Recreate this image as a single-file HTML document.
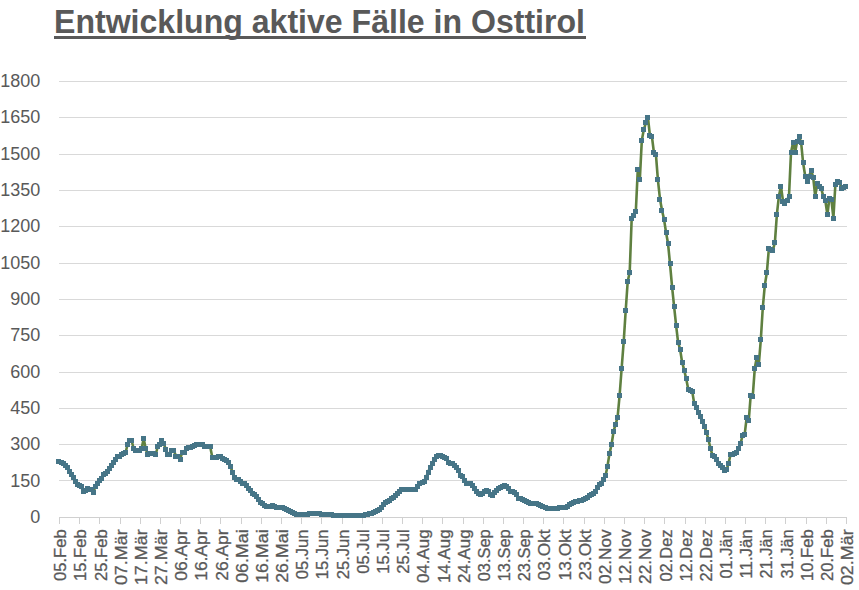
<!DOCTYPE html>
<html><head><meta charset="utf-8"><title>Entwicklung aktive Fälle in Osttirol</title>
<style>
html,body{margin:0;padding:0;background:#fff;}
body{width:859px;height:590px;position:relative;overflow:hidden;}
h1{position:absolute;left:54px;top:5px;margin:0;transform:scale(1.002,1.045);transform-origin:0 0;font:bold 32px/1 "Liberation Sans",Arial,sans-serif;color:#595959;white-space:nowrap;}
svg{position:absolute;left:0;top:0;}
#u{position:absolute;left:54px;top:36px;width:532px;height:3px;background:#595959;}
.yl{font:18px "Liberation Sans",Arial,sans-serif;fill:#595959;}
.xl{font:16.7px "Liberation Sans",Arial,sans-serif;fill:#595959;stroke:#595959;stroke-width:0.3px;}
</style></head><body>
<h1 id="t">Entwicklung aktive Fälle in Osttirol</h1>
<div id="u"></div>
<svg width="859" height="590" viewBox="0 0 859 590">
<line x1="59.0" y1="480.5" x2="847.0" y2="480.5" stroke="#D9D9D9" stroke-width="1"/>
<line x1="59.0" y1="444.5" x2="847.0" y2="444.5" stroke="#D9D9D9" stroke-width="1"/>
<line x1="59.0" y1="408.5" x2="847.0" y2="408.5" stroke="#D9D9D9" stroke-width="1"/>
<line x1="59.0" y1="372.5" x2="847.0" y2="372.5" stroke="#D9D9D9" stroke-width="1"/>
<line x1="59.0" y1="335.5" x2="847.0" y2="335.5" stroke="#D9D9D9" stroke-width="1"/>
<line x1="59.0" y1="299.5" x2="847.0" y2="299.5" stroke="#D9D9D9" stroke-width="1"/>
<line x1="59.0" y1="263.5" x2="847.0" y2="263.5" stroke="#D9D9D9" stroke-width="1"/>
<line x1="59.0" y1="226.5" x2="847.0" y2="226.5" stroke="#D9D9D9" stroke-width="1"/>
<line x1="59.0" y1="190.5" x2="847.0" y2="190.5" stroke="#D9D9D9" stroke-width="1"/>
<line x1="59.0" y1="154.5" x2="847.0" y2="154.5" stroke="#D9D9D9" stroke-width="1"/>
<line x1="59.0" y1="117.5" x2="847.0" y2="117.5" stroke="#D9D9D9" stroke-width="1"/>
<line x1="59.0" y1="81.5" x2="847.0" y2="81.5" stroke="#D9D9D9" stroke-width="1"/>
<line x1="59.0" y1="517.5" x2="847.0" y2="517.5" stroke="#D0D0D0" stroke-width="1"/>
<line x1="59.5" y1="517.5" x2="59.5" y2="524.0" stroke="#D0D0D0" stroke-width="1"/>
<line x1="79.5" y1="517.5" x2="79.5" y2="524.0" stroke="#D0D0D0" stroke-width="1"/>
<line x1="99.5" y1="517.5" x2="99.5" y2="524.0" stroke="#D0D0D0" stroke-width="1"/>
<line x1="120.5" y1="517.5" x2="120.5" y2="524.0" stroke="#D0D0D0" stroke-width="1"/>
<line x1="140.5" y1="517.5" x2="140.5" y2="524.0" stroke="#D0D0D0" stroke-width="1"/>
<line x1="160.5" y1="517.5" x2="160.5" y2="524.0" stroke="#D0D0D0" stroke-width="1"/>
<line x1="180.5" y1="517.5" x2="180.5" y2="524.0" stroke="#D0D0D0" stroke-width="1"/>
<line x1="200.5" y1="517.5" x2="200.5" y2="524.0" stroke="#D0D0D0" stroke-width="1"/>
<line x1="220.5" y1="517.5" x2="220.5" y2="524.0" stroke="#D0D0D0" stroke-width="1"/>
<line x1="241.5" y1="517.5" x2="241.5" y2="524.0" stroke="#D0D0D0" stroke-width="1"/>
<line x1="261.5" y1="517.5" x2="261.5" y2="524.0" stroke="#D0D0D0" stroke-width="1"/>
<line x1="281.5" y1="517.5" x2="281.5" y2="524.0" stroke="#D0D0D0" stroke-width="1"/>
<line x1="301.5" y1="517.5" x2="301.5" y2="524.0" stroke="#D0D0D0" stroke-width="1"/>
<line x1="321.5" y1="517.5" x2="321.5" y2="524.0" stroke="#D0D0D0" stroke-width="1"/>
<line x1="342.5" y1="517.5" x2="342.5" y2="524.0" stroke="#D0D0D0" stroke-width="1"/>
<line x1="362.5" y1="517.5" x2="362.5" y2="524.0" stroke="#D0D0D0" stroke-width="1"/>
<line x1="382.5" y1="517.5" x2="382.5" y2="524.0" stroke="#D0D0D0" stroke-width="1"/>
<line x1="402.5" y1="517.5" x2="402.5" y2="524.0" stroke="#D0D0D0" stroke-width="1"/>
<line x1="422.5" y1="517.5" x2="422.5" y2="524.0" stroke="#D0D0D0" stroke-width="1"/>
<line x1="442.5" y1="517.5" x2="442.5" y2="524.0" stroke="#D0D0D0" stroke-width="1"/>
<line x1="463.5" y1="517.5" x2="463.5" y2="524.0" stroke="#D0D0D0" stroke-width="1"/>
<line x1="483.5" y1="517.5" x2="483.5" y2="524.0" stroke="#D0D0D0" stroke-width="1"/>
<line x1="503.5" y1="517.5" x2="503.5" y2="524.0" stroke="#D0D0D0" stroke-width="1"/>
<line x1="523.5" y1="517.5" x2="523.5" y2="524.0" stroke="#D0D0D0" stroke-width="1"/>
<line x1="543.5" y1="517.5" x2="543.5" y2="524.0" stroke="#D0D0D0" stroke-width="1"/>
<line x1="563.5" y1="517.5" x2="563.5" y2="524.0" stroke="#D0D0D0" stroke-width="1"/>
<line x1="584.5" y1="517.5" x2="584.5" y2="524.0" stroke="#D0D0D0" stroke-width="1"/>
<line x1="604.5" y1="517.5" x2="604.5" y2="524.0" stroke="#D0D0D0" stroke-width="1"/>
<line x1="624.5" y1="517.5" x2="624.5" y2="524.0" stroke="#D0D0D0" stroke-width="1"/>
<line x1="644.5" y1="517.5" x2="644.5" y2="524.0" stroke="#D0D0D0" stroke-width="1"/>
<line x1="664.5" y1="517.5" x2="664.5" y2="524.0" stroke="#D0D0D0" stroke-width="1"/>
<line x1="685.5" y1="517.5" x2="685.5" y2="524.0" stroke="#D0D0D0" stroke-width="1"/>
<line x1="705.5" y1="517.5" x2="705.5" y2="524.0" stroke="#D0D0D0" stroke-width="1"/>
<line x1="725.5" y1="517.5" x2="725.5" y2="524.0" stroke="#D0D0D0" stroke-width="1"/>
<line x1="745.5" y1="517.5" x2="745.5" y2="524.0" stroke="#D0D0D0" stroke-width="1"/>
<line x1="765.5" y1="517.5" x2="765.5" y2="524.0" stroke="#D0D0D0" stroke-width="1"/>
<line x1="785.5" y1="517.5" x2="785.5" y2="524.0" stroke="#D0D0D0" stroke-width="1"/>
<line x1="806.5" y1="517.5" x2="806.5" y2="524.0" stroke="#D0D0D0" stroke-width="1"/>
<line x1="826.5" y1="517.5" x2="826.5" y2="524.0" stroke="#D0D0D0" stroke-width="1"/>
<line x1="846.5" y1="517.5" x2="846.5" y2="524.0" stroke="#D0D0D0" stroke-width="1"/>
<text x="40.2" y="523.00" text-anchor="end" class="yl">0</text>
<text x="40.2" y="486.65" text-anchor="end" class="yl">150</text>
<text x="40.2" y="450.30" text-anchor="end" class="yl">300</text>
<text x="40.2" y="413.95" text-anchor="end" class="yl">450</text>
<text x="40.2" y="377.60" text-anchor="end" class="yl">600</text>
<text x="40.2" y="341.25" text-anchor="end" class="yl">750</text>
<text x="40.2" y="304.90" text-anchor="end" class="yl">900</text>
<text x="40.2" y="268.55" text-anchor="end" class="yl">1050</text>
<text x="40.2" y="232.20" text-anchor="end" class="yl">1200</text>
<text x="40.2" y="195.85" text-anchor="end" class="yl">1350</text>
<text x="40.2" y="159.50" text-anchor="end" class="yl">1500</text>
<text x="40.2" y="123.15" text-anchor="end" class="yl">1650</text>
<text x="40.2" y="86.80" text-anchor="end" class="yl">1800</text>
<text transform="translate(66.1,529.4) rotate(-90)" text-anchor="end" textLength="51.6" lengthAdjust="spacingAndGlyphs" class="xl">05.Feb</text>
<text transform="translate(86.3,529.4) rotate(-90)" text-anchor="end" textLength="51.6" lengthAdjust="spacingAndGlyphs" class="xl">15.Feb</text>
<text transform="translate(106.5,529.4) rotate(-90)" text-anchor="end" textLength="51.6" lengthAdjust="spacingAndGlyphs" class="xl">25.Feb</text>
<text transform="translate(126.6,529.4) rotate(-90)" text-anchor="end" textLength="55.7" lengthAdjust="spacingAndGlyphs" class="xl">07.Mär</text>
<text transform="translate(146.8,529.4) rotate(-90)" text-anchor="end" textLength="55.7" lengthAdjust="spacingAndGlyphs" class="xl">17.Mär</text>
<text transform="translate(167.0,529.4) rotate(-90)" text-anchor="end" textLength="55.7" lengthAdjust="spacingAndGlyphs" class="xl">27.Mär</text>
<text transform="translate(187.2,529.4) rotate(-90)" text-anchor="end" textLength="51.4" lengthAdjust="spacingAndGlyphs" class="xl">06.Apr</text>
<text transform="translate(207.4,529.4) rotate(-90)" text-anchor="end" textLength="51.4" lengthAdjust="spacingAndGlyphs" class="xl">16.Apr</text>
<text transform="translate(227.5,529.4) rotate(-90)" text-anchor="end" textLength="51.4" lengthAdjust="spacingAndGlyphs" class="xl">26.Apr</text>
<text transform="translate(247.7,529.4) rotate(-90)" text-anchor="end" textLength="53.4" lengthAdjust="spacingAndGlyphs" class="xl">06.Mai</text>
<text transform="translate(267.9,529.4) rotate(-90)" text-anchor="end" textLength="53.4" lengthAdjust="spacingAndGlyphs" class="xl">16.Mai</text>
<text transform="translate(288.1,529.4) rotate(-90)" text-anchor="end" textLength="53.4" lengthAdjust="spacingAndGlyphs" class="xl">26.Mai</text>
<text transform="translate(308.3,529.4) rotate(-90)" text-anchor="end" textLength="49.9" lengthAdjust="spacingAndGlyphs" class="xl">05.Jun</text>
<text transform="translate(328.4,529.4) rotate(-90)" text-anchor="end" textLength="49.9" lengthAdjust="spacingAndGlyphs" class="xl">15.Jun</text>
<text transform="translate(348.6,529.4) rotate(-90)" text-anchor="end" textLength="49.9" lengthAdjust="spacingAndGlyphs" class="xl">25.Jun</text>
<text transform="translate(368.8,529.4) rotate(-90)" text-anchor="end" textLength="44.4" lengthAdjust="spacingAndGlyphs" class="xl">05.Jul</text>
<text transform="translate(389.0,529.4) rotate(-90)" text-anchor="end" textLength="44.4" lengthAdjust="spacingAndGlyphs" class="xl">15.Jul</text>
<text transform="translate(409.2,529.4) rotate(-90)" text-anchor="end" textLength="44.4" lengthAdjust="spacingAndGlyphs" class="xl">25.Jul</text>
<text transform="translate(429.3,529.4) rotate(-90)" text-anchor="end" textLength="53.7" lengthAdjust="spacingAndGlyphs" class="xl">04.Aug</text>
<text transform="translate(449.5,529.4) rotate(-90)" text-anchor="end" textLength="53.7" lengthAdjust="spacingAndGlyphs" class="xl">14.Aug</text>
<text transform="translate(469.7,529.4) rotate(-90)" text-anchor="end" textLength="53.7" lengthAdjust="spacingAndGlyphs" class="xl">24.Aug</text>
<text transform="translate(489.9,529.4) rotate(-90)" text-anchor="end" textLength="51.9" lengthAdjust="spacingAndGlyphs" class="xl">03.Sep</text>
<text transform="translate(510.0,529.4) rotate(-90)" text-anchor="end" textLength="51.9" lengthAdjust="spacingAndGlyphs" class="xl">13.Sep</text>
<text transform="translate(530.2,529.4) rotate(-90)" text-anchor="end" textLength="51.9" lengthAdjust="spacingAndGlyphs" class="xl">23.Sep</text>
<text transform="translate(550.4,529.4) rotate(-90)" text-anchor="end" textLength="51.0" lengthAdjust="spacingAndGlyphs" class="xl">03.Okt</text>
<text transform="translate(570.6,529.4) rotate(-90)" text-anchor="end" textLength="51.0" lengthAdjust="spacingAndGlyphs" class="xl">13.Okt</text>
<text transform="translate(590.8,529.4) rotate(-90)" text-anchor="end" textLength="51.0" lengthAdjust="spacingAndGlyphs" class="xl">23.Okt</text>
<text transform="translate(610.9,529.4) rotate(-90)" text-anchor="end" textLength="54.5" lengthAdjust="spacingAndGlyphs" class="xl">02.Nov</text>
<text transform="translate(631.1,529.4) rotate(-90)" text-anchor="end" textLength="54.5" lengthAdjust="spacingAndGlyphs" class="xl">12.Nov</text>
<text transform="translate(651.3,529.4) rotate(-90)" text-anchor="end" textLength="54.5" lengthAdjust="spacingAndGlyphs" class="xl">22.Nov</text>
<text transform="translate(671.5,529.4) rotate(-90)" text-anchor="end" textLength="52.2" lengthAdjust="spacingAndGlyphs" class="xl">02.Dez</text>
<text transform="translate(691.7,529.4) rotate(-90)" text-anchor="end" textLength="52.2" lengthAdjust="spacingAndGlyphs" class="xl">12.Dez</text>
<text transform="translate(711.8,529.4) rotate(-90)" text-anchor="end" textLength="52.2" lengthAdjust="spacingAndGlyphs" class="xl">22.Dez</text>
<text transform="translate(732.0,529.4) rotate(-90)" text-anchor="end" textLength="49.1" lengthAdjust="spacingAndGlyphs" class="xl">01.Jän</text>
<text transform="translate(752.2,529.4) rotate(-90)" text-anchor="end" textLength="49.1" lengthAdjust="spacingAndGlyphs" class="xl">11.Jän</text>
<text transform="translate(772.4,529.4) rotate(-90)" text-anchor="end" textLength="49.1" lengthAdjust="spacingAndGlyphs" class="xl">21.Jän</text>
<text transform="translate(792.6,529.4) rotate(-90)" text-anchor="end" textLength="49.1" lengthAdjust="spacingAndGlyphs" class="xl">31.Jän</text>
<text transform="translate(812.7,529.4) rotate(-90)" text-anchor="end" textLength="51.6" lengthAdjust="spacingAndGlyphs" class="xl">10.Feb</text>
<text transform="translate(832.9,529.4) rotate(-90)" text-anchor="end" textLength="51.6" lengthAdjust="spacingAndGlyphs" class="xl">20.Feb</text>
<text transform="translate(853.1,529.4) rotate(-90)" text-anchor="end" textLength="55.7" lengthAdjust="spacingAndGlyphs" class="xl">02.Mär</text>
<polyline points="59.0,462.0 61.0,462.7 63.0,463.5 65.0,465.1 67.1,467.7 69.1,471.0 71.1,474.7 73.1,477.5 75.1,481.5 77.2,484.0 79.2,485.2 81.2,486.5 83.2,491.9 85.2,490.5 87.2,488.8 89.2,489.5 91.3,489.8 93.3,492.1 95.3,487.0 97.3,483.5 99.3,480.5 101.3,478.0 103.4,474.6 105.4,473.8 107.4,471.5 109.4,468.5 111.4,465.5 113.4,462.5 115.5,459.5 117.5,457.0 119.5,456.0 121.5,455.0 123.5,453.9 125.5,453.0 127.6,444.3 129.6,440.5 131.6,440.5 133.6,448.5 135.6,450.4 137.6,450.4 139.7,450.4 141.7,448.0 143.7,438.4 145.7,449.0 147.7,454.0 149.8,453.5 151.8,453.6 153.8,453.6 155.8,454.0 157.8,446.5 159.8,445.0 161.8,440.5 163.9,443.8 165.9,449.6 167.9,454.5 169.9,454.5 171.9,450.7 173.9,450.7 176.0,456.0 178.0,456.5 180.0,459.1 182.0,453.0 184.0,452.5 186.1,448.1 188.1,447.8 190.1,447.6 192.1,447.0 194.1,445.5 196.1,445.0 198.2,444.5 200.2,444.1 202.2,444.7 204.2,446.5 206.2,446.7 208.2,446.7 210.2,446.7 212.3,457.3 214.3,457.3 216.3,457.3 218.3,457.0 220.3,456.4 222.3,458.0 224.4,459.6 226.4,461.0 228.4,462.2 230.4,466.0 232.4,472.0 234.4,477.5 236.5,479.9 238.5,479.9 240.5,481.5 242.5,483.9 244.5,483.9 246.5,485.9 248.6,488.5 250.6,490.5 252.6,493.1 254.6,494.7 256.6,496.4 258.6,499.2 260.7,502.4 262.7,503.9 264.7,505.3 266.7,506.1 268.7,506.9 270.8,506.5 272.8,505.9 274.8,506.2 276.8,507.2 278.8,507.9 280.8,507.9 282.9,507.9 284.9,508.4 286.9,509.4 288.9,510.6 290.9,511.8 292.9,512.9 294.9,513.7 297.0,514.5 299.0,514.5 301.0,514.5 303.0,514.5 305.0,514.5 307.0,514.3 309.1,513.9 311.1,513.5 313.1,513.3 315.1,513.1 317.1,513.4 319.1,513.8 321.2,514.1 323.2,514.3 325.2,514.4 327.2,514.6 329.2,514.7 331.2,514.9 333.3,515.1 335.3,515.4 337.3,515.4 339.3,515.4 341.3,515.4 343.3,515.4 345.4,515.4 347.4,515.4 349.4,515.4 351.4,515.4 353.4,515.4 355.4,515.4 357.5,515.4 359.5,515.4 361.5,515.4 363.5,515.2 365.5,514.8 367.6,514.4 369.6,513.8 371.6,513.2 373.6,512.2 375.6,511.2 377.6,510.2 379.6,509.2 381.7,507.2 383.7,504.6 385.7,502.9 387.7,501.4 389.7,500.2 391.8,498.9 393.8,497.1 395.8,495.2 397.8,493.2 399.8,491.2 401.8,489.3 403.8,489.6 405.9,489.8 407.9,489.8 409.9,489.8 411.9,489.7 413.9,489.5 415.9,489.3 418.0,486.0 420.0,483.4 422.0,482.7 424.0,481.1 426.0,477.7 428.1,472.2 430.1,467.2 432.1,463.9 434.1,459.6 436.1,456.4 438.1,455.3 440.1,455.3 442.2,456.1 444.2,457.2 446.2,458.9 448.2,462.0 450.2,463.1 452.2,463.7 454.3,465.0 456.3,467.4 458.3,470.5 460.3,475.0 462.3,477.0 464.3,480.3 466.4,483.7 468.4,483.7 470.4,483.2 472.4,485.0 474.4,488.1 476.4,491.5 478.5,493.7 480.5,494.8 482.5,493.0 484.5,491.4 486.5,490.5 488.6,491.4 490.6,494.7 492.6,495.0 494.6,492.7 496.6,490.3 498.6,488.4 500.6,487.6 502.7,486.7 504.7,485.6 506.7,486.8 508.7,488.7 510.7,491.0 512.8,491.3 514.8,492.6 516.8,494.6 518.8,498.1 520.8,498.9 522.8,499.7 524.8,500.7 526.9,501.6 528.9,502.6 530.9,503.6 532.9,503.7 534.9,503.7 537.0,504.0 539.0,504.5 541.0,505.4 543.0,506.9 545.0,507.9 547.0,508.2 549.0,508.3 551.1,508.3 553.1,508.3 555.1,508.3 557.1,508.2 559.1,508.0 561.1,507.8 563.2,507.8 565.2,507.8 567.2,506.2 569.2,504.5 571.2,503.4 573.2,502.5 575.3,501.9 577.3,501.3 579.3,500.7 581.3,500.1 583.3,499.4 585.4,498.4 587.4,497.3 589.4,495.8 591.4,494.4 593.4,493.4 595.4,491.5 597.4,487.1 599.5,484.4 601.5,483.4 603.5,479.6 605.5,475.9 607.5,466.0 609.5,453.6 611.6,444.2 613.6,431.2 615.6,424.3 617.6,417.2 619.6,395.5 621.6,369.0 623.7,341.7 625.7,310.5 627.7,281.5 629.7,272.2 631.7,218.0 633.8,215.4 635.8,211.7 637.8,169.4 639.8,179.9 641.8,140.6 643.8,129.6 645.9,122.8 647.9,117.2 649.9,135.5 651.9,136.4 653.9,152.5 655.9,154.2 657.9,179.9 660.0,199.2 662.0,210.3 664.0,219.1 666.0,232.2 668.0,243.2 670.0,263.6 672.1,287.2 674.1,306.3 676.1,325.4 678.1,342.4 680.1,349.2 682.1,362.2 684.2,370.2 686.2,378.7 688.2,389.1 690.2,390.2 692.2,391.2 694.2,403.4 696.3,407.4 698.3,412.2 700.3,416.9 702.3,421.6 704.3,426.2 706.4,432.0 708.4,439.5 710.4,448.0 712.4,455.1 714.4,456.5 716.4,459.2 718.4,463.2 720.5,465.3 722.5,467.3 724.5,470.4 726.5,469.8 728.5,463.7 730.5,454.6 732.6,454.1 734.6,453.6 736.6,452.0 738.6,448.5 740.6,443.4 742.6,435.3 744.7,434.2 746.7,417.3 748.7,421.0 750.7,395.3 752.7,397.0 754.8,368.1 756.8,357.3 758.8,364.6 760.8,339.8 762.8,307.5 764.8,285.4 766.9,272.2 768.9,248.2 770.9,249.5 772.9,250.1 774.9,242.4 776.9,214.1 778.9,196.1 781.0,186.4 783.0,201.2 785.0,203.8 787.0,200.0 789.0,196.1 791.0,152.5 793.1,142.3 795.1,152.5 797.1,141.6 799.1,136.9 801.1,142.3 803.1,162.8 805.2,176.0 807.2,181.8 809.2,176.0 811.2,170.3 813.2,177.3 815.2,196.4 817.3,183.7 819.3,186.5 821.3,188.8 823.3,196.4 825.3,200.2 827.4,214.8 829.4,198.0 831.4,199.5 833.4,218.0 835.4,184.0 837.4,181.6 839.4,182.0 841.5,188.0 843.5,187.5 845.5,186.4" fill="none" stroke="#5F8040" stroke-width="2.6" stroke-linejoin="round"/>
<g fill="#467587"><rect x="56" y="459" width="5" height="5"/><rect x="59" y="460" width="5" height="5"/><rect x="61" y="461" width="5" height="5"/><rect x="63" y="463" width="5" height="5"/><rect x="65" y="465" width="5" height="5"/><rect x="67" y="469" width="5" height="5"/><rect x="69" y="472" width="5" height="5"/><rect x="71" y="475" width="5" height="5"/><rect x="73" y="479" width="5" height="5"/><rect x="75" y="482" width="5" height="5"/><rect x="77" y="483" width="5" height="5"/><rect x="79" y="484" width="5" height="5"/><rect x="81" y="489" width="5" height="5"/><rect x="83" y="488" width="5" height="5"/><rect x="85" y="486" width="5" height="5"/><rect x="87" y="487" width="5" height="5"/><rect x="89" y="487" width="5" height="5"/><rect x="91" y="490" width="5" height="5"/><rect x="93" y="484" width="5" height="5"/><rect x="95" y="481" width="5" height="5"/><rect x="97" y="478" width="5" height="5"/><rect x="99" y="476" width="5" height="5"/><rect x="101" y="472" width="5" height="5"/><rect x="103" y="471" width="5" height="5"/><rect x="105" y="469" width="5" height="5"/><rect x="107" y="466" width="5" height="5"/><rect x="109" y="463" width="5" height="5"/><rect x="111" y="460" width="5" height="5"/><rect x="113" y="457" width="5" height="5"/><rect x="115" y="454" width="5" height="5"/><rect x="117" y="454" width="5" height="5"/><rect x="119" y="452" width="5" height="5"/><rect x="121" y="451" width="5" height="5"/><rect x="123" y="450" width="5" height="5"/><rect x="125" y="442" width="5" height="5"/><rect x="127" y="438" width="5" height="5"/><rect x="129" y="438" width="5" height="5"/><rect x="131" y="446" width="5" height="5"/><rect x="133" y="448" width="5" height="5"/><rect x="135" y="448" width="5" height="5"/><rect x="137" y="448" width="5" height="5"/><rect x="139" y="446" width="5" height="5"/><rect x="141" y="436" width="5" height="5"/><rect x="143" y="446" width="5" height="5"/><rect x="145" y="452" width="5" height="5"/><rect x="147" y="451" width="5" height="5"/><rect x="149" y="451" width="5" height="5"/><rect x="151" y="451" width="5" height="5"/><rect x="153" y="452" width="5" height="5"/><rect x="155" y="444" width="5" height="5"/><rect x="157" y="442" width="5" height="5"/><rect x="159" y="438" width="5" height="5"/><rect x="161" y="441" width="5" height="5"/><rect x="163" y="447" width="5" height="5"/><rect x="165" y="452" width="5" height="5"/><rect x="167" y="452" width="5" height="5"/><rect x="169" y="448" width="5" height="5"/><rect x="171" y="448" width="5" height="5"/><rect x="173" y="454" width="5" height="5"/><rect x="175" y="454" width="5" height="5"/><rect x="178" y="457" width="5" height="5"/><rect x="180" y="450" width="5" height="5"/><rect x="182" y="450" width="5" height="5"/><rect x="184" y="446" width="5" height="5"/><rect x="186" y="445" width="5" height="5"/><rect x="188" y="445" width="5" height="5"/><rect x="190" y="444" width="5" height="5"/><rect x="192" y="443" width="5" height="5"/><rect x="194" y="442" width="5" height="5"/><rect x="196" y="442" width="5" height="5"/><rect x="198" y="442" width="5" height="5"/><rect x="200" y="442" width="5" height="5"/><rect x="202" y="444" width="5" height="5"/><rect x="204" y="444" width="5" height="5"/><rect x="206" y="444" width="5" height="5"/><rect x="208" y="444" width="5" height="5"/><rect x="210" y="455" width="5" height="5"/><rect x="212" y="455" width="5" height="5"/><rect x="214" y="455" width="5" height="5"/><rect x="216" y="454" width="5" height="5"/><rect x="218" y="454" width="5" height="5"/><rect x="220" y="456" width="5" height="5"/><rect x="222" y="457" width="5" height="5"/><rect x="224" y="458" width="5" height="5"/><rect x="226" y="460" width="5" height="5"/><rect x="228" y="464" width="5" height="5"/><rect x="230" y="470" width="5" height="5"/><rect x="232" y="475" width="5" height="5"/><rect x="234" y="477" width="5" height="5"/><rect x="236" y="477" width="5" height="5"/><rect x="238" y="479" width="5" height="5"/><rect x="240" y="481" width="5" height="5"/><rect x="242" y="481" width="5" height="5"/><rect x="244" y="483" width="5" height="5"/><rect x="246" y="486" width="5" height="5"/><rect x="248" y="488" width="5" height="5"/><rect x="250" y="491" width="5" height="5"/><rect x="252" y="492" width="5" height="5"/><rect x="254" y="494" width="5" height="5"/><rect x="256" y="497" width="5" height="5"/><rect x="258" y="500" width="5" height="5"/><rect x="260" y="501" width="5" height="5"/><rect x="262" y="503" width="5" height="5"/><rect x="264" y="504" width="5" height="5"/><rect x="266" y="504" width="5" height="5"/><rect x="268" y="504" width="5" height="5"/><rect x="270" y="503" width="5" height="5"/><rect x="272" y="504" width="5" height="5"/><rect x="274" y="505" width="5" height="5"/><rect x="276" y="505" width="5" height="5"/><rect x="278" y="505" width="5" height="5"/><rect x="280" y="505" width="5" height="5"/><rect x="282" y="506" width="5" height="5"/><rect x="284" y="507" width="5" height="5"/><rect x="286" y="508" width="5" height="5"/><rect x="288" y="509" width="5" height="5"/><rect x="290" y="510" width="5" height="5"/><rect x="292" y="511" width="5" height="5"/><rect x="294" y="512" width="5" height="5"/><rect x="296" y="512" width="5" height="5"/><rect x="298" y="512" width="5" height="5"/><rect x="301" y="512" width="5" height="5"/><rect x="303" y="512" width="5" height="5"/><rect x="305" y="512" width="5" height="5"/><rect x="307" y="511" width="5" height="5"/><rect x="309" y="511" width="5" height="5"/><rect x="311" y="511" width="5" height="5"/><rect x="313" y="511" width="5" height="5"/><rect x="315" y="511" width="5" height="5"/><rect x="317" y="511" width="5" height="5"/><rect x="319" y="512" width="5" height="5"/><rect x="321" y="512" width="5" height="5"/><rect x="323" y="512" width="5" height="5"/><rect x="325" y="512" width="5" height="5"/><rect x="327" y="512" width="5" height="5"/><rect x="329" y="512" width="5" height="5"/><rect x="331" y="513" width="5" height="5"/><rect x="333" y="513" width="5" height="5"/><rect x="335" y="513" width="5" height="5"/><rect x="337" y="513" width="5" height="5"/><rect x="339" y="513" width="5" height="5"/><rect x="341" y="513" width="5" height="5"/><rect x="343" y="513" width="5" height="5"/><rect x="345" y="513" width="5" height="5"/><rect x="347" y="513" width="5" height="5"/><rect x="349" y="513" width="5" height="5"/><rect x="351" y="513" width="5" height="5"/><rect x="353" y="513" width="5" height="5"/><rect x="355" y="513" width="5" height="5"/><rect x="357" y="513" width="5" height="5"/><rect x="359" y="513" width="5" height="5"/><rect x="361" y="513" width="5" height="5"/><rect x="363" y="512" width="5" height="5"/><rect x="365" y="512" width="5" height="5"/><rect x="367" y="511" width="5" height="5"/><rect x="369" y="511" width="5" height="5"/><rect x="371" y="510" width="5" height="5"/><rect x="373" y="509" width="5" height="5"/><rect x="375" y="508" width="5" height="5"/><rect x="377" y="507" width="5" height="5"/><rect x="379" y="505" width="5" height="5"/><rect x="381" y="502" width="5" height="5"/><rect x="383" y="500" width="5" height="5"/><rect x="385" y="499" width="5" height="5"/><rect x="387" y="498" width="5" height="5"/><rect x="389" y="496" width="5" height="5"/><rect x="391" y="495" width="5" height="5"/><rect x="393" y="493" width="5" height="5"/><rect x="395" y="491" width="5" height="5"/><rect x="397" y="489" width="5" height="5"/><rect x="399" y="487" width="5" height="5"/><rect x="401" y="487" width="5" height="5"/><rect x="403" y="487" width="5" height="5"/><rect x="405" y="487" width="5" height="5"/><rect x="407" y="487" width="5" height="5"/><rect x="409" y="487" width="5" height="5"/><rect x="411" y="487" width="5" height="5"/><rect x="413" y="487" width="5" height="5"/><rect x="415" y="484" width="5" height="5"/><rect x="417" y="481" width="5" height="5"/><rect x="420" y="480" width="5" height="5"/><rect x="422" y="479" width="5" height="5"/><rect x="424" y="475" width="5" height="5"/><rect x="426" y="470" width="5" height="5"/><rect x="428" y="465" width="5" height="5"/><rect x="430" y="461" width="5" height="5"/><rect x="432" y="457" width="5" height="5"/><rect x="434" y="454" width="5" height="5"/><rect x="436" y="453" width="5" height="5"/><rect x="438" y="453" width="5" height="5"/><rect x="440" y="454" width="5" height="5"/><rect x="442" y="455" width="5" height="5"/><rect x="444" y="456" width="5" height="5"/><rect x="446" y="460" width="5" height="5"/><rect x="448" y="461" width="5" height="5"/><rect x="450" y="461" width="5" height="5"/><rect x="452" y="463" width="5" height="5"/><rect x="454" y="465" width="5" height="5"/><rect x="456" y="468" width="5" height="5"/><rect x="458" y="473" width="5" height="5"/><rect x="460" y="474" width="5" height="5"/><rect x="462" y="478" width="5" height="5"/><rect x="464" y="481" width="5" height="5"/><rect x="466" y="481" width="5" height="5"/><rect x="468" y="481" width="5" height="5"/><rect x="470" y="483" width="5" height="5"/><rect x="472" y="486" width="5" height="5"/><rect x="474" y="489" width="5" height="5"/><rect x="476" y="491" width="5" height="5"/><rect x="478" y="492" width="5" height="5"/><rect x="480" y="491" width="5" height="5"/><rect x="482" y="489" width="5" height="5"/><rect x="484" y="488" width="5" height="5"/><rect x="486" y="489" width="5" height="5"/><rect x="488" y="492" width="5" height="5"/><rect x="490" y="493" width="5" height="5"/><rect x="492" y="490" width="5" height="5"/><rect x="494" y="488" width="5" height="5"/><rect x="496" y="486" width="5" height="5"/><rect x="498" y="485" width="5" height="5"/><rect x="500" y="484" width="5" height="5"/><rect x="502" y="483" width="5" height="5"/><rect x="504" y="484" width="5" height="5"/><rect x="506" y="486" width="5" height="5"/><rect x="508" y="489" width="5" height="5"/><rect x="510" y="489" width="5" height="5"/><rect x="512" y="490" width="5" height="5"/><rect x="514" y="492" width="5" height="5"/><rect x="516" y="496" width="5" height="5"/><rect x="518" y="496" width="5" height="5"/><rect x="520" y="497" width="5" height="5"/><rect x="522" y="498" width="5" height="5"/><rect x="524" y="499" width="5" height="5"/><rect x="526" y="500" width="5" height="5"/><rect x="528" y="501" width="5" height="5"/><rect x="530" y="501" width="5" height="5"/><rect x="532" y="501" width="5" height="5"/><rect x="534" y="501" width="5" height="5"/><rect x="536" y="502" width="5" height="5"/><rect x="538" y="503" width="5" height="5"/><rect x="540" y="504" width="5" height="5"/><rect x="543" y="505" width="5" height="5"/><rect x="545" y="506" width="5" height="5"/><rect x="547" y="506" width="5" height="5"/><rect x="549" y="506" width="5" height="5"/><rect x="551" y="506" width="5" height="5"/><rect x="553" y="506" width="5" height="5"/><rect x="555" y="506" width="5" height="5"/><rect x="557" y="505" width="5" height="5"/><rect x="559" y="505" width="5" height="5"/><rect x="561" y="505" width="5" height="5"/><rect x="563" y="505" width="5" height="5"/><rect x="565" y="504" width="5" height="5"/><rect x="567" y="502" width="5" height="5"/><rect x="569" y="501" width="5" height="5"/><rect x="571" y="500" width="5" height="5"/><rect x="573" y="499" width="5" height="5"/><rect x="575" y="499" width="5" height="5"/><rect x="577" y="498" width="5" height="5"/><rect x="579" y="498" width="5" height="5"/><rect x="581" y="497" width="5" height="5"/><rect x="583" y="496" width="5" height="5"/><rect x="585" y="495" width="5" height="5"/><rect x="587" y="493" width="5" height="5"/><rect x="589" y="492" width="5" height="5"/><rect x="591" y="491" width="5" height="5"/><rect x="593" y="489" width="5" height="5"/><rect x="595" y="485" width="5" height="5"/><rect x="597" y="482" width="5" height="5"/><rect x="599" y="481" width="5" height="5"/><rect x="601" y="477" width="5" height="5"/><rect x="603" y="473" width="5" height="5"/><rect x="605" y="464" width="5" height="5"/><rect x="607" y="451" width="5" height="5"/><rect x="609" y="442" width="5" height="5"/><rect x="611" y="429" width="5" height="5"/><rect x="613" y="422" width="5" height="5"/><rect x="615" y="415" width="5" height="5"/><rect x="617" y="393" width="5" height="5"/><rect x="619" y="366" width="5" height="5"/><rect x="621" y="339" width="5" height="5"/><rect x="623" y="308" width="5" height="5"/><rect x="625" y="279" width="5" height="5"/><rect x="627" y="270" width="5" height="5"/><rect x="629" y="216" width="5" height="5"/><rect x="631" y="213" width="5" height="5"/><rect x="633" y="209" width="5" height="5"/><rect x="635" y="167" width="5" height="5"/><rect x="637" y="177" width="5" height="5"/><rect x="639" y="138" width="5" height="5"/><rect x="641" y="127" width="5" height="5"/><rect x="643" y="120" width="5" height="5"/><rect x="645" y="115" width="5" height="5"/><rect x="647" y="133" width="5" height="5"/><rect x="649" y="134" width="5" height="5"/><rect x="651" y="150" width="5" height="5"/><rect x="653" y="152" width="5" height="5"/><rect x="655" y="177" width="5" height="5"/><rect x="657" y="197" width="5" height="5"/><rect x="659" y="208" width="5" height="5"/><rect x="662" y="217" width="5" height="5"/><rect x="664" y="230" width="5" height="5"/><rect x="666" y="241" width="5" height="5"/><rect x="668" y="261" width="5" height="5"/><rect x="670" y="285" width="5" height="5"/><rect x="672" y="304" width="5" height="5"/><rect x="674" y="323" width="5" height="5"/><rect x="676" y="340" width="5" height="5"/><rect x="678" y="347" width="5" height="5"/><rect x="680" y="360" width="5" height="5"/><rect x="682" y="368" width="5" height="5"/><rect x="684" y="376" width="5" height="5"/><rect x="686" y="387" width="5" height="5"/><rect x="688" y="388" width="5" height="5"/><rect x="690" y="389" width="5" height="5"/><rect x="692" y="401" width="5" height="5"/><rect x="694" y="405" width="5" height="5"/><rect x="696" y="410" width="5" height="5"/><rect x="698" y="414" width="5" height="5"/><rect x="700" y="419" width="5" height="5"/><rect x="702" y="424" width="5" height="5"/><rect x="704" y="430" width="5" height="5"/><rect x="706" y="437" width="5" height="5"/><rect x="708" y="446" width="5" height="5"/><rect x="710" y="453" width="5" height="5"/><rect x="712" y="454" width="5" height="5"/><rect x="714" y="457" width="5" height="5"/><rect x="716" y="461" width="5" height="5"/><rect x="718" y="463" width="5" height="5"/><rect x="720" y="465" width="5" height="5"/><rect x="722" y="468" width="5" height="5"/><rect x="724" y="467" width="5" height="5"/><rect x="726" y="461" width="5" height="5"/><rect x="728" y="452" width="5" height="5"/><rect x="730" y="452" width="5" height="5"/><rect x="732" y="451" width="5" height="5"/><rect x="734" y="450" width="5" height="5"/><rect x="736" y="446" width="5" height="5"/><rect x="738" y="441" width="5" height="5"/><rect x="740" y="433" width="5" height="5"/><rect x="742" y="432" width="5" height="5"/><rect x="744" y="415" width="5" height="5"/><rect x="746" y="418" width="5" height="5"/><rect x="748" y="393" width="5" height="5"/><rect x="750" y="394" width="5" height="5"/><rect x="752" y="366" width="5" height="5"/><rect x="754" y="355" width="5" height="5"/><rect x="756" y="362" width="5" height="5"/><rect x="758" y="337" width="5" height="5"/><rect x="760" y="305" width="5" height="5"/><rect x="762" y="283" width="5" height="5"/><rect x="764" y="270" width="5" height="5"/><rect x="766" y="246" width="5" height="5"/><rect x="768" y="247" width="5" height="5"/><rect x="770" y="248" width="5" height="5"/><rect x="772" y="240" width="5" height="5"/><rect x="774" y="212" width="5" height="5"/><rect x="776" y="194" width="5" height="5"/><rect x="778" y="184" width="5" height="5"/><rect x="780" y="199" width="5" height="5"/><rect x="782" y="201" width="5" height="5"/><rect x="785" y="198" width="5" height="5"/><rect x="787" y="194" width="5" height="5"/><rect x="789" y="150" width="5" height="5"/><rect x="791" y="140" width="5" height="5"/><rect x="793" y="150" width="5" height="5"/><rect x="795" y="139" width="5" height="5"/><rect x="797" y="134" width="5" height="5"/><rect x="799" y="140" width="5" height="5"/><rect x="801" y="160" width="5" height="5"/><rect x="803" y="174" width="5" height="5"/><rect x="805" y="179" width="5" height="5"/><rect x="807" y="174" width="5" height="5"/><rect x="809" y="168" width="5" height="5"/><rect x="811" y="175" width="5" height="5"/><rect x="813" y="194" width="5" height="5"/><rect x="815" y="181" width="5" height="5"/><rect x="817" y="184" width="5" height="5"/><rect x="819" y="186" width="5" height="5"/><rect x="821" y="194" width="5" height="5"/><rect x="823" y="198" width="5" height="5"/><rect x="825" y="212" width="5" height="5"/><rect x="827" y="196" width="5" height="5"/><rect x="829" y="197" width="5" height="5"/><rect x="831" y="216" width="5" height="5"/><rect x="833" y="182" width="5" height="5"/><rect x="835" y="179" width="5" height="5"/><rect x="837" y="180" width="5" height="5"/><rect x="839" y="186" width="5" height="5"/><rect x="841" y="185" width="5" height="5"/><rect x="843" y="184" width="5" height="5"/></g>
</svg>
</body></html>
